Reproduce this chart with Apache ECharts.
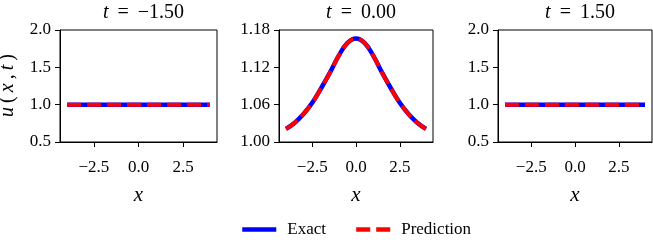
<!DOCTYPE html>
<html>
<head>
<meta charset="utf-8">
<script src="https://cdn.jsdelivr.net/npm/echarts@6/dist/echarts.min.js"></script>
<style>
html,body{margin:0;padding:0;background:#fff;}
#c{width:653px;height:245px;}
</style>
</head>
<body>
<div id="c"></div>
<script>
// ---- data ----
const xPts = [-4, -3.5, -3, -2.5, -2, -1.5, -1, -0.5, 0, 0.5, 1, 1.5, 2, 2.5, 3, 3.5, 4];
const exactTm150 = [1.0, 1.0, 1.0, 1.0, 1.0, 1.0, 1.0, 1.0, 1.0, 1.0, 1.0, 1.0, 1.0, 1.0, 1.0, 1.0, 1.0];
const predTm150  = [1.0, 1.0, 1.0, 1.0, 1.0, 1.0, 1.0, 1.0, 1.0, 1.0, 1.0, 1.0, 1.0, 1.0, 1.0, 1.0, 1.0];
const exactT000 = [1.021, 1.031, 1.045, 1.063, 1.086, 1.111, 1.138, 1.159, 1.1665, 1.159, 1.138, 1.111, 1.086, 1.063, 1.045, 1.031, 1.021];
const predT000  = [1.021, 1.031, 1.045, 1.063, 1.086, 1.111, 1.138, 1.159, 1.1665, 1.159, 1.138, 1.111, 1.086, 1.063, 1.045, 1.031, 1.021];
const exactTp150 = [1.0, 1.0, 1.0, 1.0, 1.0, 1.0, 1.0, 1.0, 1.0, 1.0, 1.0, 1.0, 1.0, 1.0, 1.0, 1.0, 1.0];
const predTp150  = [1.0, 1.0, 1.0, 1.0, 1.0, 1.0, 1.0, 1.0, 1.0, 1.0, 1.0, 1.0, 1.0, 1.0, 1.0, 1.0, 1.0];
const timeLabels = ['\u22121.50', '0.00', '1.50'];
const xTicks = [-2.5, 0, 2.5];
const yTicksSide = [0.5, 1.0, 1.5, 2.0];
const yTicksMid = [1.00, 1.06, 1.12, 1.18];

// ---- chart ----
const FONT = '"Liberation Serif", "DejaVu Serif", serif';
const chart = echarts.init(document.getElementById('c'), null, {renderer: 'canvas'});
const grids = [
  {left: 60, top: 30, width: 157, height: 112},
  {left: 279, top: 30, width: 154, height: 112},
  {left: 498, top: 30, width: 154, height: 112}
];
const pairs = (ys) => xPts.map((x, i) => [x, ys[i]]);
const fmtNum = (v, d) => (v < 0 ? '\u2212' : '') + Math.abs(v).toFixed(d);

const xAxes = grids.map((g, i) => ({
  type: 'value', gridIndex: i, min: -4.4, max: 4.4,
  splitLine: {show: false},
  axisLine: {show: true, onZero: false, lineStyle: {color: '#000', width: 1}},
  axisTick: {show: true, length: 5, lineStyle: {color: '#000', width: 1}, customValues: xTicks},
  axisLabel: {customValues: xTicks, formatter: v => fmtNum(v, 1), color: '#000', fontFamily: FONT, fontSize: 17, margin: 17},
  name: 'x', nameLocation: 'middle', nameGap: 43,
  nameTextStyle: {fontFamily: FONT, fontStyle: 'italic', fontSize: 21, color: '#000'}
}));
const yAxes = grids.map((g, i) => {
  const mid = i === 1;
  const ticks = mid ? yTicksMid : yTicksSide;
  const ax = {
    type: 'value', gridIndex: i,
    min: mid ? 1.0 : 0.5, max: mid ? 1.18 : 2.0,
    splitLine: {show: false},
    axisLine: {show: true, onZero: false, lineStyle: {color: '#000', width: 1}},
    axisTick: {show: true, length: 5, lineStyle: {color: '#000', width: 1}, customValues: ticks},
    axisLabel: {customValues: ticks, formatter: v => fmtNum(v, mid ? 2 : 1), color: '#000', fontFamily: FONT, fontSize: 17, margin: 9}
  };
  if (i === 0) {
    ax.name = '{i|u}{n|(}{i|x}{n|,}{i|t}{n|)}';
    ax.nameLocation = 'middle';
    ax.nameGap = 42;
    ax.nameRotate = 90;
    ax.nameTextStyle = {
      color: '#000',
      rich: {
        i: {fontFamily: FONT, fontStyle: 'italic', fontSize: 20, color: '#000', padding: [0, 2.5]},
        n: {fontFamily: FONT, fontSize: 20, color: '#000', padding: [0, 1.5]}
      }
    };
  }
  return ax;
});
const centers = grids.map(g => g.left + g.width / 2);
const titles = timeLabels.map((t, i) => ({
  text: '{i|t}{n| \u2009=\u2009 ' + t + '}',
  left: centers[i], top: -2, textAlign: 'center',
  textStyle: {
    fontWeight: 'normal',
    rich: {
      i: {fontFamily: FONT, fontStyle: 'italic', fontWeight: 'normal', fontSize: 20, color: '#000'},
      n: {fontFamily: FONT, fontWeight: 'normal', fontSize: 20, color: '#000'}
    }
  }
}));
const exactSets = [exactTm150, exactT000, exactTp150];
const predSets = [predTm150, predT000, predTp150];
const series = [];
for (let i = 0; i < 3; i++) {
  series.push({
    name: 'Exact', type: 'line', xAxisIndex: i, yAxisIndex: i,
    data: pairs(exactSets[i]), smooth: 0.4, symbol: 'none',
    lineStyle: {color: '#0000ff', width: 4.5}, itemStyle: {color: '#0000ff'},
    z: 2, animation: false
  });
  series.push({
    name: 'Prediction', type: 'line', xAxisIndex: i, yAxisIndex: i,
    data: pairs(predSets[i]), smooth: 0.4, symbol: 'none',
    lineStyle: {color: '#ff0000', width: 4, type: [14, 6]}, itemStyle: {color: '#ff0000'},
    z: 3, animation: false
  });
}
chart.setOption({
  animation: false,
  backgroundColor: '#fff',
  title: titles,
  grid: grids.map(g => Object.assign({show: true, borderColor: '#000', borderWidth: 1, containLabel: false, outerBoundsMode: 'none'}, g)),
  xAxis: xAxes,
  yAxis: yAxes,
  legend: {
    data: ['Exact', 'Prediction'],
    left: 240, top: 221, padding: 0, itemWidth: 34, itemHeight: 14, itemGap: 28,
    itemStyle: {color: 'rgba(0,0,0,0)', borderWidth: 0, opacity: 0},
    lineStyle: {width: 4.5},
    textStyle: {fontFamily: FONT, fontSize: 17, color: '#000', padding: [0, 0, 0, 6]}
  },
  series: series
});
</script>
</body>
</html>
